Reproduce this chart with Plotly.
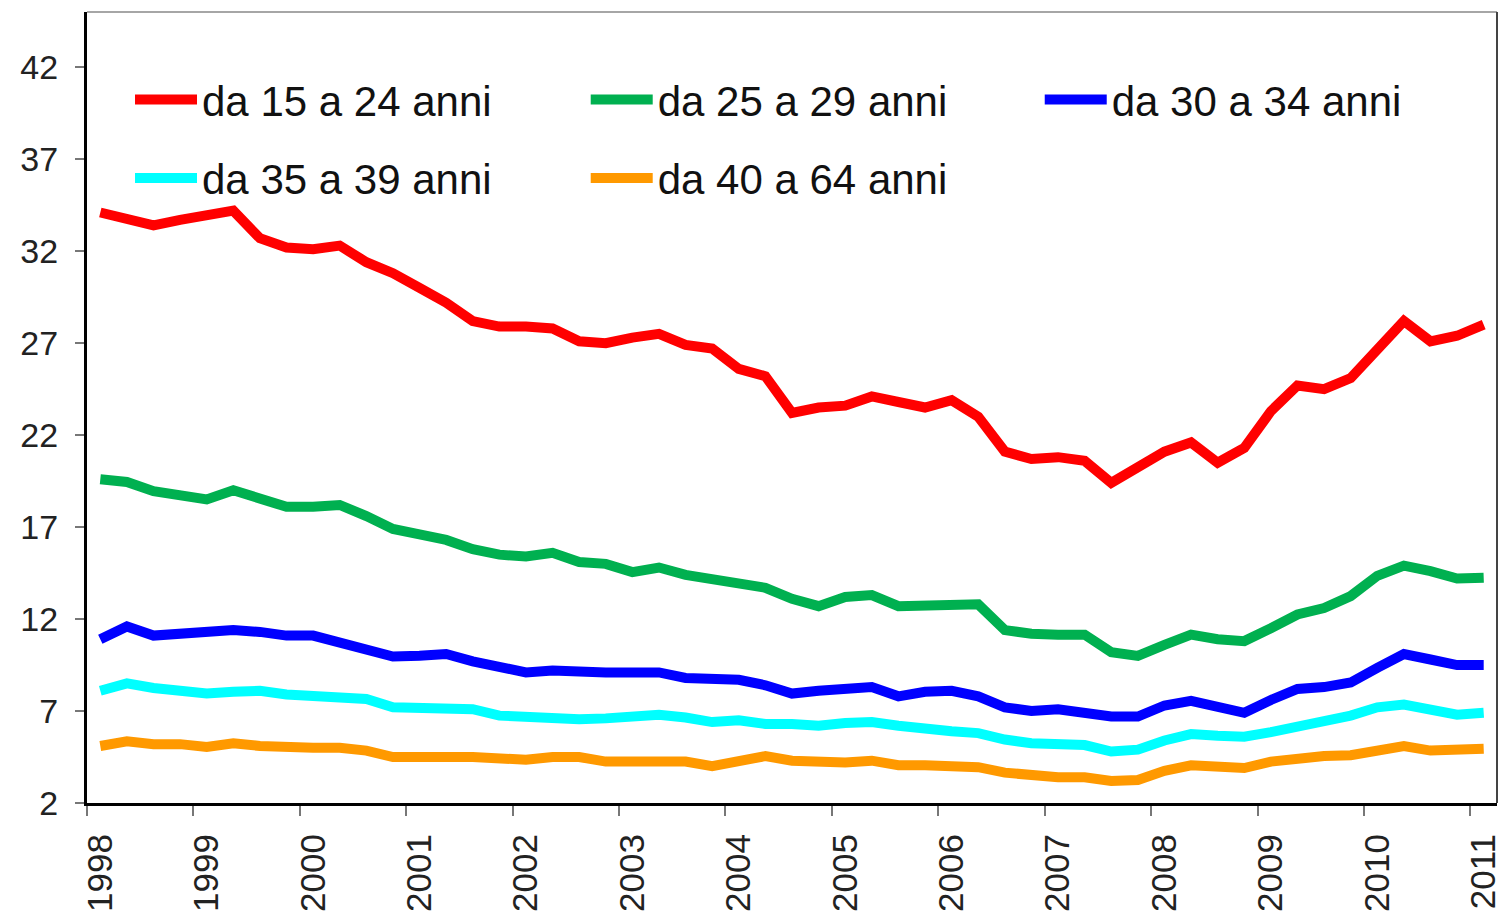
import plotly.graph_objects as go

# quarterly series, 1998 Q1 .. 2011 Q1
years = [str(y) for y in range(1998, 2012)]
quarters = list(range(53))

eta_15_24 = [34.1, 33.8, 33.4, 33.7, 34.0, 34.2, 32.7, 32.2, 32.1, 32.3,
             31.4, 30.8, 30.0, 29.2, 28.2, 27.9, 27.9, 27.8, 27.1, 27.0,
             27.3, 27.5, 26.9, 26.7, 25.6, 25.2, 23.2, 23.5, 23.6, 24.1,
             23.8, 23.5, 23.9, 23.0, 21.1, 20.7, 20.8, 20.6, 19.4, 20.2,
             21.1, 21.6, 20.5, 21.3, 23.3, 24.7, 24.5, 25.1, 26.6, 28.2,
             27.1, 27.4, 28.0]
eta_25_29 = [19.6, 19.45, 18.95, 18.7, 18.5, 19.0, 18.5, 18.1, 18.1, 18.2,
             17.6, 16.9, 16.6, 16.3, 15.8, 15.5, 15.4, 15.6, 15.1, 15.0,
             14.55, 14.8, 14.4, 14.15, 14.0, 13.7, 13.1, 12.7, 13.2, 13.3,
             12.7, 12.7, 12.7, 12.8, 11.4, 11.2, 11.15, 11.15, 10.2, 10.0,
             10.6, 11.15, 10.9, 10.8, 11.5, 12.25, 12.6, 13.25, 14.35, 14.9,
             14.6, 14.2, 14.25]
eta_30_34 = [10.9, 11.6, 11.1, 11.2, 11.2, 11.4, 11.3, 11.1, 11.1, 10.7,
             10.4, 9.96, 10.0, 10.1, 9.7, 9.4, 9.1, 9.2, 9.1, 9.1,
             9.1, 9.1, 8.8, 8.7, 8.7, 8.4, 7.95, 8.1, 8.2, 8.3,
             7.8, 8.05, 8.1, 7.8, 7.2, 7.0, 7.1, 6.95, 6.7, 6.7,
             7.3, 7.55, 7.2, 6.9, 7.6, 8.2, 8.3, 8.55, 9.35, 10.1,
             9.8, 9.5, 9.5]
eta_35_39 = [8.1, 8.5, 8.25, 8.05, 7.95, 8.05, 8.1, 7.9, 7.8, 7.65,
             7.65, 7.2, 7.2, 7.1, 7.1, 6.75, 6.65, 6.65, 6.55, 6.6,
             6.7, 6.8, 6.65, 6.4, 6.5, 6.3, 6.3, 6.2, 6.35, 6.4,
             6.2, 6.0, 5.9, 5.8, 5.45, 5.25, 5.15, 5.15, 4.8, 4.9,
             5.4, 5.75, 5.65, 5.6, 5.85, 6.2, 6.45, 6.75, 7.2, 7.35,
             7.1, 6.8, 6.9]
eta_40_64 = [5.1, 5.35, 5.2, 5.2, 5.05, 5.25, 5.1, 5.0, 5.0, 5.0,
             4.85, 4.5, 4.45, 4.5, 4.5, 4.4, 4.35, 4.5, 4.5, 4.25,
             4.25, 4.25, 4.25, 4.0, 4.3, 4.55, 4.3, 4.2, 4.2, 4.3,
             4.05, 4.05, 4.05, 3.95, 3.65, 3.5, 3.4, 3.4, 3.2, 3.25,
             3.75, 4.05, 4.0, 3.9, 4.25, 4.45, 4.55, 4.6, 4.9, 5.1,
             4.85, 4.85, 4.95]

series = [
    ("da 15 a 24 anni", eta_15_24, "#FF0000"),
    ("da 25 a 29 anni", eta_25_29, "#00B050"),
    ("da 30 a 34 anni", eta_30_34, "#0000FF"),
    ("da 35 a 39 anni", eta_35_39, "#00FFFF"),
    ("da 40 a 64 anni", eta_40_64, "#FF9900"),
]

# one small legend per entry, laid out as a 3-column grid
legend_cols = [0.0305, 0.3537, 0.6757]
legend_rows = [0.889, 0.79]

fig = go.Figure()
legends = {}
for k, (name, values, color) in enumerate(series):
    key = 'legend' if k == 0 else f'legend{k + 1}'
    fig.add_trace(go.Scatter(
        x=quarters,
        y=values,
        name=name,
        mode='lines',
        legend=key,
        line=dict(color=color, width=10)
    ))
    legends[key] = dict(
        x=legend_cols[k % 3],
        y=legend_rows[k // 3],
        xanchor='left',
        yanchor='middle',
        itemwidth=62,
        font=dict(size=42, color='#111111'),
        bgcolor='rgba(0,0,0,0)'
    )

fig.update_layout(
    width=1501,
    height=918,
    margin=dict(l=87, r=4, t=12, b=115),
    paper_bgcolor='white',
    plot_bgcolor='white',
    font=dict(family='Liberation Sans, Arial, sans-serif', color='#222222'),
    showlegend=True,
    **legends
)

fig.update_xaxes(
    range=[-0.5, 52.5],
    automargin=False,
    tickmode='array',
    tickvals=quarters[::4],
    ticktext=years,
    tickangle=-90,
    ticks='',
    ticklabelstandoff=14,
    ticklabeloverflow='allow',
    tickfont=dict(size=35),
    showline=True,
    linecolor='black',
    linewidth=3,
    showgrid=False,
    zeroline=False,
    minor=dict(
        tickmode='array',
        tickvals=[q - 0.5 for q in quarters[::4]],
        ticks='outside',
        ticklen=10,
        tickwidth=2,
        tickcolor='#777777'
    )
)

fig.update_yaxes(
    range=[2, 45],
    automargin=False,
    tickmode='array',
    tickvals=list(range(2, 43, 5)),
    ticks='outside',
    ticklen=9,
    tickwidth=2,
    tickcolor='#777777',
    ticklabelstandoff=10,
    tickfont=dict(size=34),
    showline=True,
    linecolor='black',
    linewidth=3,
    showgrid=False,
    zeroline=False
)

# thin frame on top and right side
fig.add_shape(type='line', xref='paper', yref='paper',
              x0=0, x1=1, y0=1, y1=1, line=dict(color='#888888', width=1.5))
fig.add_shape(type='line', xref='paper', yref='paper',
              x0=1, x1=1, y0=0, y1=1, line=dict(color='#444444', width=2))

# page body margin would shift the fixed-size figure
fig.write_html("out.html", config={'displayModeBar': False},
               post_script="document.body.style.margin='0';")
